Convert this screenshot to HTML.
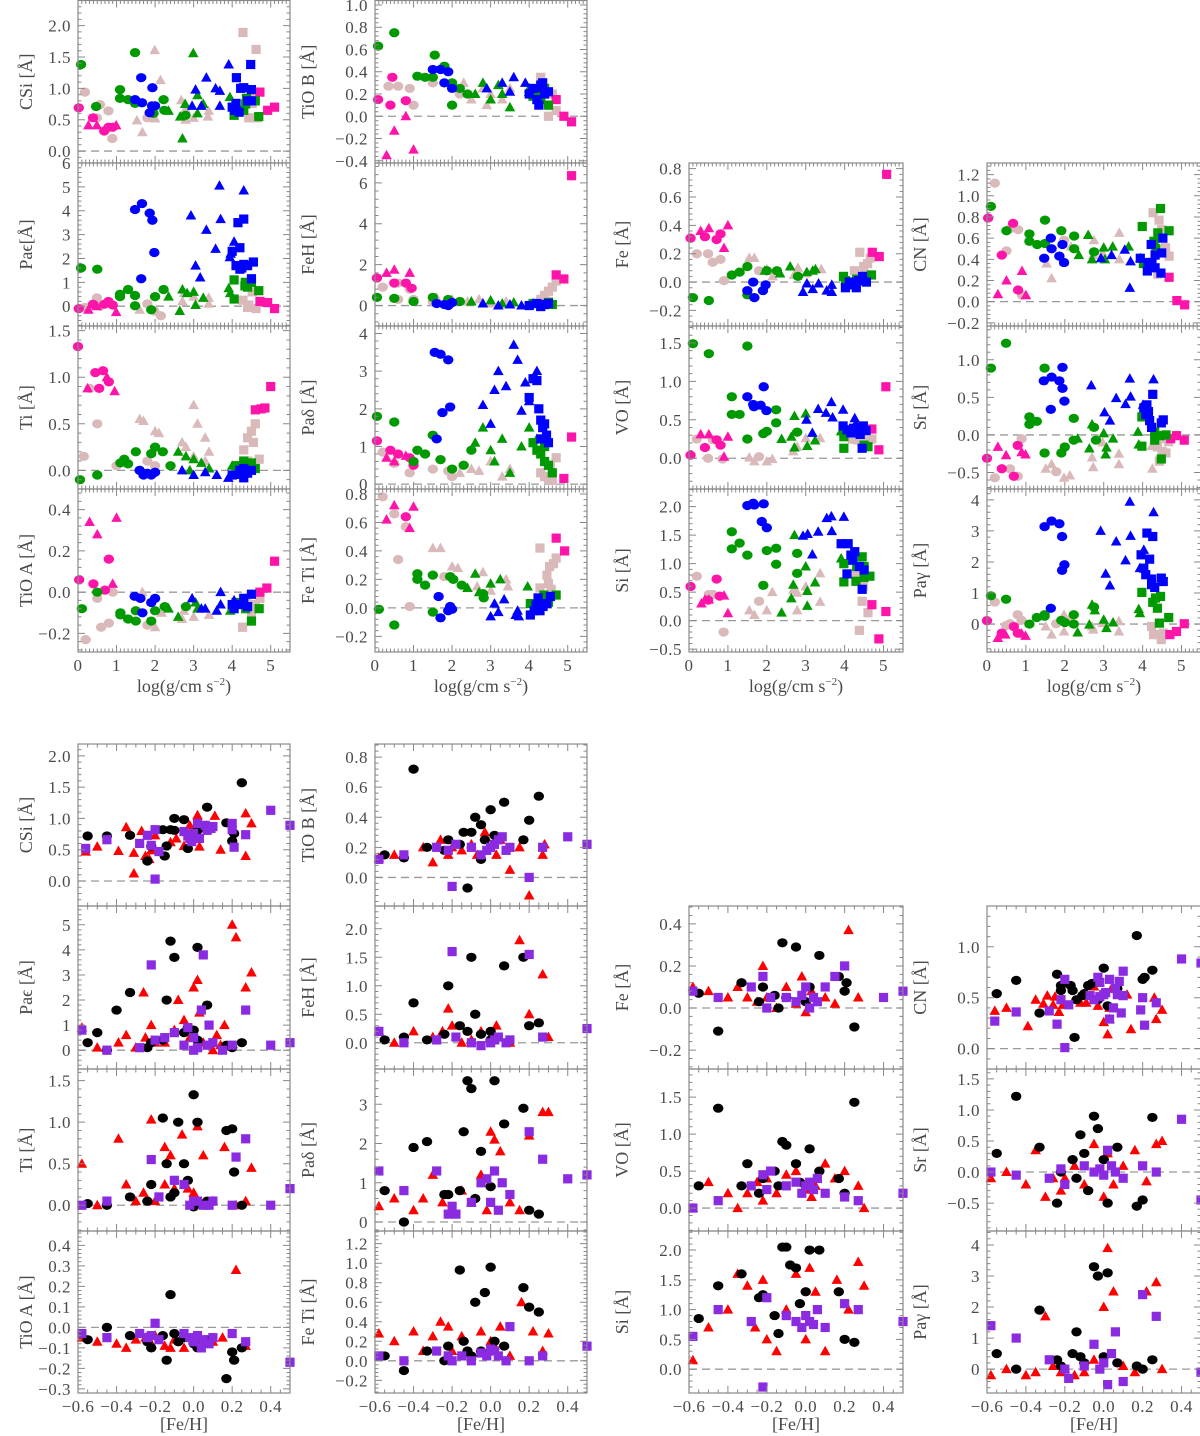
<!DOCTYPE html>
<html><head><meta charset="utf-8">
<style>
html,body{margin:0;padding:0;background:#fff;}
svg{display:block;}
text{font-family:"Liberation Serif",serif;fill:#4a4a4a;}
</style></head>
<body>
<svg id="fig" width="1200" height="1436" viewBox="0 0 1200 1436" xmlns="http://www.w3.org/2000/svg"></svg>
<script>
// ---------- data: top section (x = log g) ----------
const T_CSI={po:[0.18,0.94,0.49,0.53,0.57,0.74,0.79,0.64,0.89,0.2,1.8,0.53],
pt:[1.99,1.61,2.14,1.13,1.53,0.49,1.67,0.3,2.0,0.52,2.68,0.81,2.79,0.67,2.79,0.5,3.0,0.53,3.39,0.64,3.37,0.55],
ps:[4.28,1.89,4.62,1.62,4.48,0.85,4.43,0.53,4.65,0.53,4.52,0.76],
mo:[0.02,0.69,0.39,0.53,0.68,0.32,0.79,0.38,0.9,0.38],mt:[0.27,0.41,0.49,0.41,0.99,0.41],ms:[4.72,0.94,4.92,0.65,5.1,0.7],
go:[0.08,1.38,0.47,0.71,1.48,1.57,1.09,0.98,1.09,0.84,1.3,0.82,1.48,0.76,2.22,0.82,2.24,0.65,1.96,0.6,2.79,0.57],
gt:[2.71,0.2,2.99,1.56,2.65,0.55,3.1,0.89,3.1,0.6,3.25,0.75,2.78,0.75,3.94,0.86,2.35,0.64],
gs:[4.05,0.7,4.05,0.57,4.3,0.65,4.35,0.75,4.6,0.8,4.69,0.55,4.37,0.84],
bo:[1.64,1.17,1.48,0.82,1.66,0.77,1.93,1.01,1.92,0.72,2.0,0.72,1.86,0.61],
bt:[3.05,0.98,3.33,1.17,3.57,1.0,3.68,0.96,3.68,0.72,3.91,1.38,3.2,0.72,2.96,0.72],
bs:[4.11,1.17,4.48,1.38,4.22,1.0,4.3,1.01,4.5,0.98,4.0,0.7,4.1,0.76,4.18,0.62,4.4,0.8,4.5,0.8,4.06,0.65]};
const T_PAE={po:[0.49,0.35,0.18,-0.05,1.8,0.1,1.98,-0.2,2.15,-0.4,0.57,0.0],
pt:[2.71,0.2,2.75,0.55,3.0,0.4,3.39,0.35,3.39,0.1,1.6,-0.15],
ps:[4.28,0.25,4.43,0.05,4.52,0.6,4.62,-0.1,4.4,-0.05],
mo:[0.02,-0.1,0.39,0.08,0.68,0.08,0.79,0.2,0.9,0.05],mt:[0.27,-0.15,0.49,0.0,0.99,-0.25],ms:[4.72,0.2,4.92,0.15,5.1,-0.1],
go:[0.08,1.6,0.5,1.55,1.09,0.5,1.09,0.4,1.3,0.7,1.48,0.45,1.48,0.02,2.0,0.4,2.22,0.7,1.9,-0.15],
gt:[2.35,0.4,2.64,-0.2,2.71,0.7,2.83,0.55,3.0,0.6,3.05,0.05,3.25,0.35,3.91,0.75,3.95,0.55],
gs:[4.05,1.1,4.05,0.3,4.33,0.85,4.4,0.8,4.5,1.0,4.69,0.65,4.34,1.0],
bo:[1.48,4.05,1.66,4.3,1.86,3.9,1.93,3.6,1.98,2.25,1.64,1.15],
bt:[2.93,3.8,3.05,1.7,3.17,1.2,3.33,3.2,3.57,2.4,3.67,5.05,3.7,3.65,4.05,2.7,4.3,4.85,3.94,2.05,3.96,2.2],
bs:[4.0,2.3,4.15,3.5,4.3,3.65,4.2,2.45,4.1,1.7,4.2,1.55,4.4,1.7,4.55,1.85,4.3,1.75,4.5,1.15,4.25,1.6]};
const T_TI={po:[0.3,0.88,0.5,0.5,0.15,0.15,1.0,0.05,0.5,-0.05,1.8,0.1,2.0,0.05],
pt:[1.6,0.55,1.7,0.53,2.0,0.42,2.1,0.4,2.7,0.3,2.8,0.25,3.0,0.15,3.0,0.7,3.1,0.5,3.3,0.35,3.4,0.2,3.3,0.1],
ps:[4.3,0.22,4.4,0.35,4.5,0.42,4.55,0.3,4.6,0.5,4.7,0.12,4.4,0.1],
mo:[0.0,1.33,0.45,1.05,0.65,1.07,0.8,0.95,0.55,0.88],mt:[0.25,0.88,0.95,0.85,0.75,1.0],ms:[4.6,0.65,4.75,0.66,4.85,0.67,5.0,0.9],
go:[0.05,-0.1,0.5,-0.05,1.1,0.08,1.2,0.12,1.3,0.07,1.5,0.2,1.9,0.18,2.0,0.25,2.2,0.2,2.4,0.05,1.6,0.0],
gt:[2.6,0.2,2.8,0.15,3.0,0.12,3.2,0.08,3.4,0.02,4.0,0.05,2.9,0.0],
gs:[4.1,0.05,4.3,0.1,4.4,0.05,4.5,0.08,4.6,0.02,4.2,-0.02],
bo:[1.6,0.0,1.8,-0.03,1.9,-0.05,2.0,-0.02,1.7,-0.05],
bt:[2.7,0.0,3.0,-0.05,3.3,-0.02,3.6,-0.05,3.9,-0.08,4.1,-0.05],
bs:[4.0,-0.05,4.2,0.0,4.3,0.02,4.4,-0.03,4.5,0.0,4.3,-0.08]};
const T_TIOA={po:[0.2,-0.23,0.5,-0.03,0.6,-0.17,0.8,-0.15,0.9,0.0,1.8,-0.16],
pt:[1.67,0.0,2.0,-0.17,2.17,-0.1,2.7,-0.13,2.75,-0.09,3.0,-0.12,3.4,-0.11],
ps:[4.27,-0.17,4.38,-0.03,4.45,-0.08,4.5,-0.1,4.6,-0.06,4.72,-0.03],
mo:[0.03,0.06,0.4,0.04,0.7,0.01,0.8,0.16],mt:[0.3,0.34,0.5,0.28,1.0,0.36,0.9,0.04],ms:[4.72,0.0,4.9,0.02,5.1,0.15],
go:[0.1,-0.08,0.5,0.0,1.1,-0.1,1.1,-0.11,1.3,-0.13,1.5,-0.14,1.5,-0.09,1.9,-0.14,2.0,-0.09,2.25,-0.07,2.8,-0.07],
gt:[2.35,-0.08,2.6,-0.12,3.05,-0.05,3.1,-0.08,3.95,-0.09],
gs:[4.0,-0.07,4.1,-0.05,4.35,-0.08,4.5,-0.14,4.7,-0.08],
bo:[1.47,-0.02,1.67,-0.1,1.9,-0.05,2.0,-0.03,1.62,-0.03],
bt:[2.96,-0.03,3.2,-0.08,3.3,-0.08,3.6,-0.09,3.7,-0.06,3.7,0.0,4.05,-0.04],
bs:[4.0,-0.06,4.17,-0.06,4.3,-0.03,4.5,-0.01,4.4,-0.07,4.05,-0.08]};
const T_TIOB={po:[0.35,0.27,0.6,0.27,0.9,0.25,1.0,0.1,1.5,0.3,2.2,0.2],
pt:[2.3,0.3,2.5,0.15,2.8,0.25,2.9,0.1,3.0,0.2,3.3,0.15,3.5,0.25],
ps:[4.3,0.35,4.4,0.25,4.5,0.1,4.6,0.2,4.7,0.05,4.5,0.0],
mo:[0.08,0.15,0.4,0.1,0.8,0.14,0.45,0.35],mt:[0.3,-0.35,0.5,-0.13,0.8,0.0,1.0,-0.3],ms:[4.7,0.15,4.9,0.0,5.1,-0.05],
go:[0.08,0.63,0.5,0.75,1.1,0.36,1.3,0.35,1.5,0.35,1.55,0.55,1.8,0.45,2.0,0.3,2.2,0.25,2.4,0.2,2.0,0.1],
gt:[2.6,0.2,2.8,0.3,3.0,0.15,3.3,0.2,3.5,0.08,4.0,0.25,3.2,0.28],
gs:[4.1,0.18,4.2,0.22,4.3,0.15,4.4,0.25,4.5,0.1],
bo:[1.5,0.42,1.7,0.42,1.9,0.4,2.0,0.25,1.8,0.3],
bt:[2.9,0.25,3.3,0.3,3.5,0.22,3.6,0.35,3.9,0.3,4.0,0.22,4.2,0.25],
bs:[4.0,0.2,4.1,0.25,4.2,0.15,4.3,0.28,4.4,0.2,4.5,0.22,4.25,0.1,4.35,0.3]};
const T_FEH={po:[0.2,0.9,0.6,1.1,0.9,0.8,0.6,0.3,1.0,0.3,1.5,0.2],
pt:[1.6,0.4,2.0,0.3,2.4,0.2,2.7,0.3,3.0,0.1,3.4,0.2],
ps:[4.3,0.3,4.4,0.5,4.5,0.7,4.6,0.9,4.7,1.2,4.5,0.2],
mo:[0.05,1.35,0.5,1.1,0.8,1.1,0.95,0.85],mt:[0.3,1.6,0.5,1.75,0.9,1.6],ms:[5.1,6.35,4.9,1.3,4.7,1.5],
go:[0.05,0.4,0.5,0.35,1.0,0.2,1.5,0.4,1.9,0.3,2.2,0.2],
gt:[2.5,0.2,2.8,0.1,3.0,0.25,3.3,0.1,3.6,0.15,4.0,0.0],
gs:[4.1,0.1,4.3,0.0,4.5,0.15,4.6,0.05],
bo:[1.6,0.1,1.8,0.05,2.0,0.15,1.9,0.0],
bt:[2.8,0.1,3.2,0.0,3.5,0.05,3.8,0.0,4.1,0.1],
bs:[4.0,0.0,4.2,0.1,4.3,-0.05,4.4,0.05,4.5,0.1]};
const T_PAD={po:[0.2,0.85,0.5,0.55,0.9,0.3,1.5,0.4,1.9,0.35,2.0,0.2],
pt:[2.2,0.3,2.5,0.4,2.7,0.35,3.0,0.6,3.3,0.2,3.5,0.4],
ps:[4.3,0.3,4.4,0.2,4.5,0.15,4.6,0.1,4.55,0.5,4.7,0.7],
mo:[0.05,1.15,0.4,0.9,0.6,0.8,0.9,0.7,1.0,0.5],mt:[0.3,0.7,0.5,0.6,0.8,0.75],ms:[4.9,0.15,5.1,1.25],
go:[0.05,1.8,0.5,1.65,1.0,0.6,1.1,0.9,1.3,0.8,1.5,1.3,1.7,0.65,2.0,0.4,2.3,0.5,2.5,0.9],
gt:[2.6,1.1,2.8,1.5,3.0,0.9,3.1,0.6,3.3,1.2,3.5,0.3,3.8,1.0,4.0,1.5,4.2,1.2],
gs:[4.1,1.1,4.2,0.9,4.3,0.8,4.4,1.0,4.5,0.5,4.6,0.3,4.4,0.6],
bo:[1.55,3.5,1.7,3.45,1.9,3.3,1.95,2.05,1.75,1.9,1.6,1.2],
bt:[2.8,2.1,3.0,1.6,3.1,2.5,3.2,3.0,3.4,2.6,3.6,3.7,3.7,3.3,3.9,2.7,4.0,2.2,4.2,3.0,3.8,1.95],
bs:[4.0,2.3,4.1,2.8,4.2,2.75,4.25,2.0,4.3,1.7,4.35,1.5,4.4,1.6,4.45,1.3,4.3,1.2,4.5,1.1]};
const T_FETI={po:[0.2,0.78,0.5,0.66,0.6,0.34,0.8,0.57,0.9,0.01,1.8,0.22],
pt:[1.5,0.42,1.7,0.42,2.0,0.29,2.15,0.28,2.65,0.15,2.8,0.25,3.0,0.12,3.4,0.2,3.45,0.15],
ps:[4.28,0.42,4.28,0.14,4.46,0.23,4.53,0.29,4.63,0.31,4.7,0.35,4.5,0.17,4.57,0.13],
mo:[0.8,0.64],mt:[0.3,0.62,0.5,0.72,1.0,0.71,0.9,0.56],ms:[4.7,0.49,4.92,0.4],
go:[0.1,-0.01,0.5,-0.12,1.1,0.24,1.1,0.2,1.3,0.16,1.5,0.23,1.5,-0.03,1.95,0.22,2.03,0.2,2.25,0.16,2.8,0.1,2.82,0.07],
gt:[2.4,0.14,2.6,0.24,2.7,0.11,3.0,0.17,3.25,0.2,3.96,0.15],
gs:[4.03,0.03,4.28,0.05,4.38,0.09,4.5,0.04,4.7,0.09],
bo:[1.65,0.08,1.7,-0.07,1.9,-0.02,1.95,0.01,2.0,-0.01],
bt:[3.0,-0.06,3.1,0.03,3.2,-0.03,3.35,0.06,3.65,-0.05,3.7,-0.02,3.73,-0.06],
bs:[4.03,-0.05,4.13,-0.02,4.23,0.07,4.28,-0.02,4.36,0.01,4.46,0.03,4.55,0.08,4.18,0.02]};
const T_FE={po:[0.2,0.2,0.49,0.2,0.61,0.14,0.81,0.16,0.9,0.01,1.8,0.08],
pt:[1.55,0.17,1.68,0.17,2.0,0.09,2.15,0.04,2.7,0.05,2.8,0.1,3.0,0.06,3.4,0.09],
ps:[4.39,0.21,4.25,0.08,4.49,0.11,4.59,0.13,4.66,0.17,4.51,0.05],
mo:[0.04,0.31,0.41,0.32,0.71,0.3,0.81,0.34],mt:[0.3,0.36,0.51,0.38,1.0,0.4,0.9,0.24],ms:[4.71,0.21,4.89,0.18,5.08,0.76],
go:[0.1,-0.11,0.51,-0.13,1.1,0.05,1.3,0.07,1.5,0.11,1.5,-0.09,2.0,0.08,2.26,0.08,2.8,0.04],
gt:[1.95,0.08,2.34,0.06,2.6,0.11,3.03,0.07,3.18,0.08,3.25,0.09],
gs:[3.97,0.04,4.02,0.01,4.31,0.02,4.51,0.01,4.69,0.05],
bo:[1.5,-0.06,1.65,0.0,1.68,-0.11,1.9,-0.06,1.97,-0.02],
bt:[2.93,-0.07,3.03,-0.01,3.18,-0.05,3.33,-0.01,3.54,-0.06,3.67,-0.02,3.67,-0.07],
bs:[4.02,-0.04,4.12,0.0,4.22,-0.02,4.3,-0.04,4.36,0.01,4.46,0.04,4.56,0.0]};
const T_CN={po:[0.2,1.12,0.5,0.48,0.6,0.69,0.8,0.68,0.9,0.06,1.98,0.58],
pt:[1.53,0.36,1.66,0.22,1.98,0.37,2.16,0.52,2.73,0.44,2.75,0.58,2.97,0.46,3.4,0.65,3.4,0.4],
ps:[4.27,0.84,4.42,0.77,4.49,0.68,4.39,0.26,4.59,0.51,4.68,0.43],
mo:[0.03,0.79,0.38,0.44,0.67,0.74,0.8,0.11],mt:[0.28,0.07,0.5,0.2,0.9,0.29,1.0,0.06],ms:[4.68,0.23,4.88,0.01,5.08,-0.03],
go:[0.1,0.9,0.5,0.67,1.09,0.64,1.09,0.57,1.29,0.54,1.49,0.77,1.49,0.55,1.91,0.67,2.24,0.62,2.24,0.5,2.75,0.47],
gt:[2.36,0.44,2.6,0.63,2.7,0.4,3.0,0.51,3.03,0.4,3.23,0.52,3.64,0.52],
gs:[3.99,0.71,4.02,0.36,4.29,0.57,4.39,0.65,4.46,0.88,4.68,0.67,4.34,0.5],
bo:[1.47,0.41,1.64,0.6,1.66,0.5,1.86,0.43,1.94,0.54,1.98,0.37],
bt:[2.93,0.41,3.2,0.44,3.54,0.49,3.69,0.38,3.67,0.13,3.94,0.41],
bs:[3.94,0.41,4.14,0.37,4.12,0.29,4.24,0.37,4.32,0.32,4.22,0.54,4.32,0.44,4.49,0.46,4.52,0.6,4.47,0.27]};
const T_VO={po:[0.2,0.25,0.49,0.0,0.61,0.24,0.86,-0.01,1.8,0.02],
pt:[1.55,0.01,1.68,-0.04,2.0,-0.04,2.14,-0.01,2.68,0.09,2.78,0.15,3.0,0.26,3.37,0.26,4.26,0.24],
ps:[4.2,0.25,4.33,0.24,4.45,0.25,4.6,0.22,4.7,0.25],
mo:[0.04,0.04,0.41,0.14,0.71,0.24,0.81,0.17],mt:[0.3,0.31,0.51,0.31,1.0,0.28,0.9,0.02],ms:[4.7,0.38,4.88,0.11,5.06,0.93],
go:[0.1,1.49,0.51,1.36,1.5,1.46,1.1,0.8,1.1,0.57,1.3,0.57,1.5,0.25,1.91,0.32,2.0,0.35,2.24,0.63,2.24,0.46,2.78,0.34],
gt:[2.38,0.25,2.63,0.28,2.71,0.55,3.0,0.58,3.04,0.16,3.24,0.23,3.91,0.35,2.71,0.14],
gs:[3.98,0.13,3.98,0.28,4.33,0.33,4.4,0.35,4.5,0.17,4.6,0.15],
bo:[1.5,0.8,1.65,0.7,1.67,0.67,1.84,0.69,1.92,0.93,1.99,0.62],
bt:[3.02,0.5,3.17,0.33,3.32,0.64,3.52,0.59,3.66,0.73,3.69,0.53,3.96,0.63,4.26,0.52,4.29,0.45],
bs:[3.96,0.42,4.06,0.37,4.16,0.33,4.23,0.39,4.33,0.37,4.4,0.31,4.48,0.42,4.45,0.13,4.55,0.36]};
const T_SR={po:[0.2,-0.57,0.59,-0.45,0.89,-0.05,0.79,-0.55,1.78,-0.49],
pt:[1.51,-0.45,1.66,-0.39,1.98,-0.57,2.13,-0.54,2.7,-0.3,2.73,-0.43,2.97,-0.1,3.39,-0.25,3.39,-0.39,4.23,-0.15,4.25,-0.45],
ps:[4.38,-0.16,4.43,-0.35,4.5,-0.22,4.6,-0.24,4.67,-0.09,4.48,-0.05],
mo:[0.0,-0.31,0.38,-0.45,0.69,-0.55,0.79,-0.14],mt:[0.28,-0.16,0.49,-0.27,0.89,-0.23,0.99,-0.26],ms:[4.72,-0.05,4.87,-0.01,5.07,-0.07],
go:[0.1,0.89,0.49,1.22,1.09,0.14,1.09,0.24,1.28,0.18,1.48,0.89,1.48,-0.24,1.91,-0.24,2.0,-0.16,2.23,0.22,2.23,-0.07,2.8,-0.07,2.75,0.1],
gt:[2.33,-0.05,2.63,-0.18,2.7,0.14,3.0,0.02,3.07,-0.17,3.05,-0.26,3.24,-0.05,3.88,0.04,3.9,-0.13],
gs:[3.98,0.24,3.98,-0.15,4.31,0.04,4.31,-0.07,4.46,-0.01,4.6,0.0,4.48,-0.32],
bo:[1.46,0.72,1.66,0.77,1.64,0.34,1.86,0.72,1.94,0.9,1.94,0.62,1.99,0.45],
bt:[2.68,0.66,3.02,0.3,3.16,0.19,3.32,0.49,3.56,0.41,3.67,0.75,3.69,0.51,4.01,0.4,4.28,0.74],
bs:[4.03,0.36,4.11,0.4,4.08,0.27,4.18,0.19,4.26,0.54,4.23,0.1,4.48,0.16,4.53,0.2,4.15,0.31]};
const T_SI={po:[0.2,0.78,0.51,0.46,0.61,0.46,0.89,-0.2,1.8,0.34],
pt:[1.55,0.18,1.68,0.1,2.0,0.18,2.14,0.5,2.68,0.54,2.78,0.49,3.0,0.6,3.37,0.83,3.37,0.33,2.78,0.18],
ps:[4.26,0.83,4.45,0.34,4.48,0.6,4.38,-0.17,4.6,0.14],
mo:[0.04,0.6,0.71,0.73,0.79,0.43,0.49,0.36],mt:[0.32,0.3,0.41,0.37,0.51,0.37,0.9,0.44,1.0,0.13],ms:[4.7,0.28,4.88,-0.32,5.06,0.16],
go:[1.1,1.26,1.1,1.56,1.3,1.36,1.5,1.15,1.91,0.62,2.0,1.23,2.24,1.27,2.24,0.99,2.78,1.18,2.78,0.83],
gt:[2.38,0.14,2.68,0.63,2.63,0.39,2.71,1.5,3.0,0.95,3.04,0.52,3.04,0.26,3.24,0.67,3.91,1.09],
gs:[3.98,0.68,3.98,1.0,4.29,0.69,4.31,0.95,4.45,1.12,4.5,0.76,4.65,0.78,4.5,0.95],
bo:[1.5,2.02,1.65,2.06,1.68,2.03,1.92,2.05,1.87,1.74,2.0,1.63],
bt:[2.93,1.49,3.05,1.52,3.17,1.16,3.32,1.56,3.54,1.8,3.66,1.83,3.67,1.57,3.98,1.82],
bs:[3.91,1.35,4.09,1.35,4.16,1.15,4.21,1.06,4.26,1.21,4.38,0.95,4.5,0.89,4.06,0.82,4.45,0.55]};
const T_PAG={po:[0.2,0.71,0.49,-0.05,0.59,0.01,0.79,0.3,0.89,0.12,1.78,0.01],
pt:[1.51,-0.08,1.66,-0.34,1.98,0.3,1.98,-0.24,2.13,0.19,2.7,-0.08,2.73,-0.18,2.97,0.03,3.39,-0.24,3.39,0.09],
ps:[4.23,-0.08,4.38,-0.34,4.48,-0.5,4.53,-0.29,4.28,-0.34],
mo:[0.0,0.11,0.38,-0.29,0.69,-0.08,0.79,-0.29],mt:[0.28,-0.45,0.47,-0.34,0.89,-0.31,0.99,-0.38],ms:[4.7,-0.34,4.87,-0.24,5.07,0.01],
go:[0.1,0.91,0.49,0.8,1.09,0.0,1.28,0.21,1.48,0.3,1.48,0.25,1.91,0.12,2.0,0.05,2.23,0.3,2.23,0.0,2.75,0.55],
gt:[2.33,-0.27,2.63,-0.02,2.7,0.62,2.77,0.44,3.0,0.14,3.07,-0.13,3.24,0.05,3.9,0.48,3.93,0.35],
gs:[3.98,1.02,4.26,0.7,4.38,0.51,4.33,0.84,4.46,0.89,4.67,0.21,4.43,0.03],
bo:[1.48,3.14,1.66,3.32,1.86,3.23,1.93,2.82,1.99,1.91,1.93,1.73,1.64,0.51],
bt:[2.92,3.0,3.05,1.62,3.16,1.24,3.32,2.66,3.56,2.05,3.69,2.84,3.67,3.94,3.93,1.8,4.03,2.39,4.28,3.6],
bs:[3.96,2.23,4.03,1.8,4.11,2.93,4.26,2.82,4.18,2.09,4.08,1.59,4.23,1.45,4.23,1.27,4.48,1.48,4.53,1.37,4.31,1.18]};

// ---------- data: bottom section (x = [Fe/H]) ----------
const B_CSI={ko:[-0.55,0.72,-0.45,0.72,-0.33,0.73,-0.24,0.32,-0.22,0.56,-0.16,0.82,-0.14,0.56,-0.15,0.4,-0.12,0.82,-0.1,1.0,-0.1,0.81,-0.05,0.98,-0.03,0.52,0.07,1.18,0.17,0.93,0.2,0.64,0.21,0.76,0.25,1.57,0.02,0.81],
rt:[-0.56,0.47,-0.5,0.55,-0.39,0.48,-0.35,0.86,-0.31,0.12,-0.31,0.45,-0.27,0.8,-0.25,0.4,-0.23,0.35,-0.22,0.49,-0.2,0.73,-0.12,0.62,-0.09,0.68,-0.05,0.56,-0.02,0.89,0.02,1.05,0.03,0.55,0.11,1.04,0.14,0.5,0.27,1.08,0.27,0.4,0.3,0.92,-0.01,0.81],
vs:[-0.56,0.52,-0.45,0.66,-0.28,0.6,-0.24,0.73,-0.22,0.57,-0.2,0.82,-0.2,0.03,-0.18,0.47,-0.05,0.79,-0.03,0.72,-0.02,0.68,0.0,0.76,0.02,0.92,0.03,0.68,0.06,0.89,0.07,0.81,0.09,0.84,0.1,0.87,0.2,0.82,0.2,0.92,0.21,0.54,0.27,0.74,0.4,1.13,0.5,0.89,-0.01,0.63]};
const B_PAE={ko:[-0.55,0.3,-0.5,0.7,-0.45,0.0,-0.4,1.6,-0.33,2.3,-0.24,0.1,-0.22,0.3,-0.16,0.4,-0.12,4.35,-0.1,3.7,-0.05,0.7,-0.03,0.9,0.0,0.8,0.02,4.1,0.07,1.8,0.17,0.2,0.2,0.1,0.25,0.3,0.02,0.4,-0.14,2.0],
rt:[-0.58,0.9,-0.5,0.1,-0.39,0.3,-0.35,0.6,-0.3,0.1,-0.26,2.3,-0.25,0.5,-0.22,1.0,-0.2,0.3,-0.15,0.3,-0.1,0.8,-0.08,2.0,-0.05,1.2,-0.02,0.5,0.0,2.5,0.02,2.8,0.03,1.5,0.05,0.3,0.1,0.0,0.14,0.2,0.16,1.0,0.2,5.0,0.22,4.5,0.27,2.5,0.3,3.1,0.12,0.6],
vs:[-0.58,0.8,-0.45,0.0,-0.28,0.1,-0.22,3.4,-0.2,0.4,-0.15,0.5,-0.1,0.7,-0.05,0.2,-0.03,0.9,0.0,0.5,0.0,0.0,0.02,0.1,0.04,1.6,0.05,3.8,0.07,0.2,0.08,1.0,0.1,0.3,0.15,0.0,0.2,0.2,0.27,1.6,0.4,0.2,0.5,0.3]};
const B_TI={ko:[-0.55,0.02,-0.45,0.0,-0.33,0.1,-0.24,0.05,-0.22,0.25,-0.16,1.05,-0.14,0.5,-0.12,0.1,-0.1,0.15,-0.08,1.0,-0.05,0.5,-0.03,0.3,0.0,1.33,0.02,1.0,0.07,0.05,0.17,0.9,0.2,0.92,0.21,0.4,0.25,0.0,0.0,-0.02],
rt:[-0.58,0.5,-0.5,0.0,-0.39,0.8,-0.35,0.25,-0.3,0.05,-0.26,0.15,-0.22,1.03,-0.2,0.05,-0.15,0.7,-0.12,0.6,-0.1,0.2,-0.06,0.85,-0.03,0.2,0.0,0.15,0.02,0.95,0.05,0.6,0.1,0.05,0.16,0.7,0.22,0.0,0.27,0.05,0.3,0.45,-0.15,0.25],
vs:[-0.58,0.0,-0.45,0.05,-0.22,0.55,-0.18,0.1,-0.1,0.3,-0.05,0.25,-0.02,0.0,0.0,0.05,0.02,0.05,0.05,0.0,0.08,0.0,0.1,0.05,0.2,0.0,0.22,0.58,0.27,0.8,0.4,0.0,0.5,0.2]};
const B_TIOA={ko:[-0.55,-0.06,-0.45,0.0,-0.33,-0.04,-0.24,-0.07,-0.22,-0.1,-0.16,-0.04,-0.14,-0.16,-0.12,0.16,-0.1,-0.03,-0.08,-0.07,-0.05,-0.05,0.0,-0.08,0.02,-0.1,0.07,-0.06,0.17,-0.25,0.2,-0.12,0.21,-0.16,0.25,-0.1],
rt:[-0.58,-0.05,-0.5,-0.07,-0.4,-0.08,-0.35,-0.1,-0.3,-0.06,-0.25,-0.05,-0.22,-0.08,-0.2,-0.04,-0.15,-0.09,-0.1,-0.06,-0.05,-0.1,0.0,-0.05,0.03,-0.08,0.1,-0.07,0.15,-0.05,0.22,0.28,0.27,-0.09,-0.12,-0.1],
vs:[-0.58,-0.03,-0.45,-0.05,-0.28,-0.03,-0.24,-0.05,-0.22,-0.04,-0.2,0.02,-0.18,-0.06,-0.05,-0.03,-0.02,-0.05,0.0,-0.07,0.02,-0.04,0.04,-0.1,0.05,-0.06,0.08,-0.08,0.1,-0.05,0.2,-0.03,0.27,-0.07,0.5,-0.17]};
const B_TIOB={ko:[-0.55,0.15,-0.45,0.13,-0.4,0.72,-0.33,0.2,-0.24,0.18,-0.22,0.25,-0.16,0.22,-0.14,0.3,-0.12,-0.07,-0.1,0.3,-0.08,0.4,-0.05,0.35,-0.03,0.25,0.0,0.45,0.02,0.28,0.07,0.5,0.17,0.25,0.2,0.38,0.25,0.54,-0.05,0.12],
rt:[-0.58,0.13,-0.5,0.15,-0.35,0.2,-0.3,0.1,-0.26,0.25,-0.22,0.15,-0.2,0.2,-0.15,0.18,-0.1,0.22,-0.07,0.15,-0.03,0.3,0.0,0.2,0.03,0.15,0.05,0.25,0.1,0.05,0.15,0.2,0.2,-0.12,0.27,0.15,0.28,0.22],
vs:[-0.58,0.12,-0.45,0.15,-0.28,0.2,-0.22,0.18,-0.2,-0.06,-0.18,0.22,-0.1,0.2,-0.05,0.15,-0.02,0.18,0.0,0.2,0.02,0.22,0.04,0.25,0.06,0.27,0.08,0.18,0.1,0.2,0.2,0.0,0.27,0.2,0.4,0.27,0.5,0.22]};
const B_FEH={ko:[-0.55,0.05,-0.45,0.1,-0.4,0.7,-0.33,0.05,-0.24,0.15,-0.22,1.0,-0.16,0.3,-0.12,0.2,-0.1,1.5,-0.08,0.5,-0.05,0.15,0.0,0.2,0.02,0.1,0.07,1.35,0.17,1.5,0.2,0.3,0.25,0.35,0.0,0.05],
rt:[-0.58,0.2,-0.5,0.0,-0.4,0.2,-0.3,0.1,-0.25,0.2,-0.22,0.6,-0.2,0.3,-0.15,0.0,-0.1,0.05,-0.05,0.2,0.0,0.1,0.03,0.3,0.1,0.0,0.15,1.8,0.2,0.5,0.27,1.2,0.3,0.1],
vs:[-0.58,0.2,-0.45,0.0,-0.28,0.05,-0.2,1.6,-0.18,0.1,-0.1,0.0,-0.05,-0.05,0.0,0.0,0.02,0.05,0.04,0.1,0.08,0.0,0.1,0.05,0.2,1.55,0.27,0.1,0.5,0.25]};
const B_PAD={ko:[-0.55,0.8,-0.45,0.0,-0.4,1.9,-0.33,2.05,-0.24,0.7,-0.22,0.7,-0.16,0.8,-0.12,3.6,-0.1,3.4,-0.08,0.6,-0.05,1.8,0.0,0.9,0.02,3.6,0.07,2.5,0.17,2.9,0.2,0.3,0.25,0.2,-0.14,2.3],
rt:[-0.58,0.4,-0.5,0.6,-0.4,0.3,-0.35,0.6,-0.3,1.2,-0.25,0.5,-0.2,0.3,-0.15,0.8,-0.1,0.5,-0.05,1.2,0.0,2.3,0.02,2.1,0.05,1.8,0.1,0.5,0.15,0.3,0.2,2.2,0.27,2.8,0.3,2.8,-0.02,0.3],
vs:[-0.58,1.3,-0.45,0.8,-0.28,1.3,-0.22,0.2,-0.2,0.4,-0.18,0.2,-0.1,0.5,-0.05,1.0,-0.02,1.1,0.0,0.5,0.02,1.3,0.04,0.3,0.06,1.0,0.1,0.7,0.2,2.3,0.27,1.6,0.4,1.1,0.5,1.2]};
const B_FETI={ko:[-0.55,0.05,-0.45,-0.1,-0.33,0.1,-0.24,0.0,-0.22,0.15,-0.16,0.93,-0.14,0.2,-0.12,0.1,-0.1,0.05,-0.08,0.6,-0.05,0.1,0.0,0.96,0.02,0.2,0.07,0.15,0.17,0.75,0.2,0.55,0.25,0.5,-0.03,0.7],
rt:[-0.58,0.28,-0.5,0.2,-0.4,0.3,-0.35,0.1,-0.3,0.25,-0.26,0.4,-0.22,0.35,-0.2,0.1,-0.15,0.25,-0.1,0.05,-0.05,0.3,0.0,0.2,0.02,0.15,0.05,0.35,0.1,0.05,0.16,0.6,0.22,0.3,0.27,0.1,0.3,0.28],
vs:[-0.58,0.05,-0.45,0.0,-0.28,0.1,-0.22,0.05,-0.2,0.0,-0.15,0.05,-0.1,0.0,-0.05,0.08,-0.02,0.05,0.0,0.12,0.02,0.1,0.04,0.05,0.08,0.0,0.1,0.35,0.2,0.0,0.27,0.05,0.5,0.15]};
const B_FE={ko:[-0.55,0.07,-0.45,-0.11,-0.33,0.12,-0.24,0.03,-0.22,0.1,-0.16,0.06,-0.12,0.31,-0.1,0.05,-0.05,0.29,0.0,0.03,0.02,0.1,0.07,0.25,0.17,0.15,0.2,0.08,0.21,0.12,0.25,-0.09,-0.14,0.0],
rt:[-0.58,0.1,-0.5,0.08,-0.4,0.05,-0.35,0.1,-0.3,0.05,-0.25,0.03,-0.22,0.2,-0.2,0.05,-0.15,0.0,-0.1,0.1,-0.05,0.02,0.0,-0.02,0.03,0.08,0.1,0.05,0.15,0.02,0.22,0.37,0.27,0.05,-0.02,0.15],
vs:[-0.58,0.08,-0.45,0.05,-0.28,0.1,-0.22,0.15,-0.2,0.0,-0.18,0.05,-0.1,0.05,-0.05,0.03,-0.02,0.06,0.0,0.1,0.02,0.0,0.04,0.05,0.06,0.03,0.1,0.1,0.15,0.15,0.2,0.2,0.4,0.05,0.5,0.08]};
const B_CN={ko:[-0.55,0.54,-0.45,0.67,-0.33,0.35,-0.24,0.73,-0.22,0.57,-0.22,0.62,-0.16,0.57,-0.17,0.62,-0.15,0.11,-0.14,0.48,-0.11,0.52,-0.1,0.54,-0.08,0.62,-0.06,0.64,0.0,0.79,0.02,0.42,0.07,0.59,0.17,1.11,0.2,0.68,0.21,0.7,0.25,0.77,-0.03,0.48],
rt:[-0.56,0.37,-0.5,0.4,-0.39,0.22,-0.35,0.48,-0.31,0.44,-0.29,0.52,-0.25,0.51,-0.26,0.43,-0.23,0.36,-0.21,0.43,-0.2,0.65,-0.12,0.45,-0.09,0.45,-0.05,0.61,-0.03,0.42,0.0,0.26,0.02,0.14,0.03,0.4,0.04,0.59,0.12,0.53,0.14,0.19,0.26,0.5,0.27,0.29,0.3,0.38,0.03,0.29],
vs:[-0.56,0.27,-0.45,0.36,-0.28,0.37,-0.24,0.24,-0.22,0.48,-0.2,0.68,-0.2,0.01,-0.18,0.43,-0.07,0.52,-0.05,0.48,-0.03,0.7,-0.02,0.65,-0.02,0.51,0.0,0.53,0.01,0.55,0.03,0.68,0.03,0.29,0.05,0.4,0.06,0.59,0.07,0.53,0.08,0.66,0.09,0.35,0.1,0.76,0.1,0.52,0.19,0.38,0.2,0.5,0.21,0.23,0.27,0.45,0.4,0.88,0.5,0.84]};
const B_VO={ko:[-0.55,0.3,-0.45,1.35,-0.33,0.3,-0.3,0.6,-0.24,0.2,-0.22,0.4,-0.16,0.5,-0.14,0.3,-0.12,0.9,-0.1,0.85,-0.05,0.6,-0.03,0.35,0.0,0.3,0.02,0.8,0.07,0.5,0.17,0.4,0.2,0.2,0.25,1.43],
rt:[-0.58,0.0,-0.5,0.35,-0.4,0.2,-0.35,0.0,-0.3,0.2,-0.25,0.35,-0.22,0.1,-0.2,0.4,-0.15,0.2,-0.1,0.45,-0.05,0.5,0.0,0.25,0.03,0.15,0.05,0.3,0.1,0.6,0.15,0.4,0.2,0.5,0.27,0.3,0.3,0.0],
vs:[-0.58,0.0,-0.45,0.1,-0.28,0.3,-0.22,0.45,-0.2,0.25,-0.18,0.5,-0.1,0.3,-0.05,0.35,-0.02,0.2,0.0,0.3,0.02,0.35,0.04,0.25,0.06,0.4,0.1,0.2,0.2,0.15,0.27,0.1,0.5,0.2]};
const B_SI={ko:[-0.55,0.85,-0.45,1.4,-0.33,1.6,-0.24,1.2,-0.22,1.25,-0.16,0.9,-0.14,0.6,-0.12,2.05,-0.1,2.05,-0.08,1.75,-0.05,1.7,0.0,1.3,0.02,2.0,0.07,2.0,0.17,1.3,0.2,0.5,0.25,0.45,-0.03,1.1],
rt:[-0.58,0.15,-0.5,0.7,-0.4,1.0,-0.35,1.6,-0.3,1.4,-0.26,0.7,-0.22,1.5,-0.2,0.5,-0.15,0.3,-0.1,1.0,-0.05,1.6,0.0,0.5,0.02,1.7,0.05,1.3,0.1,0.3,0.16,1.5,0.22,1.0,0.27,1.8,0.3,1.4],
vs:[-0.58,0.55,-0.45,1.0,-0.28,0.8,-0.22,-0.3,-0.2,1.2,-0.1,0.9,-0.05,0.8,-0.02,0.7,0.0,0.9,0.02,0.8,0.04,0.75,0.06,1.0,0.1,0.7,0.2,1.1,0.27,1.0,0.5,0.8]};
const B_SR={ko:[-0.55,0.3,-0.45,1.22,-0.33,0.4,-0.24,-0.5,-0.22,0.0,-0.16,0.2,-0.14,-0.1,-0.12,0.6,-0.1,0.3,-0.05,0.9,-0.03,0.7,0.0,0.2,0.02,-0.5,0.07,0.4,0.17,-0.55,0.2,-0.45,0.25,0.88,-0.08,-0.3],
rt:[-0.58,-0.1,-0.5,0.0,-0.4,-0.2,-0.35,0.35,-0.3,-0.4,-0.26,-0.1,-0.22,-0.3,-0.2,-0.1,-0.15,0.1,-0.1,-0.2,-0.05,0.45,0.0,-0.4,0.02,0.3,0.05,-0.2,0.1,0.1,0.16,0.35,0.22,-0.15,0.27,0.45,0.3,0.5],
vs:[-0.58,0.0,-0.45,-0.05,-0.28,-0.1,-0.22,0.05,-0.2,-0.2,-0.1,0.1,-0.05,0.0,-0.02,0.05,0.0,-0.05,0.02,0.35,0.04,0.1,0.06,0.0,0.1,-0.1,0.2,0.1,0.27,0.0,0.4,0.85,0.5,-0.45]};
const B_PAG={ko:[-0.55,0.5,-0.45,0.0,-0.33,1.9,-0.24,0.3,-0.22,0.1,-0.16,0.5,-0.12,0.4,-0.1,0.2,-0.05,3.3,-0.03,3.0,0.0,0.4,0.02,3.1,0.07,0.2,0.17,0.1,0.2,0.0,0.25,0.3,-0.14,1.2],
rt:[-0.58,-0.2,-0.5,0.0,-0.4,-0.2,-0.35,-0.1,-0.3,1.7,-0.26,0.1,-0.22,-0.1,-0.2,0.0,-0.15,-0.2,-0.1,-0.1,-0.05,0.3,0.0,2.0,0.02,3.9,0.05,2.5,0.1,0.1,0.16,-0.1,0.22,2.5,0.27,2.8,0.3,0.0],
vs:[-0.58,1.4,-0.45,1.0,-0.28,0.3,-0.2,0.0,-0.18,-0.3,-0.1,0.1,-0.05,0.8,-0.02,0.0,0.0,0.2,0.02,-0.5,0.04,0.5,0.06,1.2,0.1,-0.4,0.2,2.4,0.27,1.7,0.5,-0.1]};

// ---------- layout ----------
const COLX=[[78,290],[375,587],[689,903],[987,1201]];
const TOPY=[[0.5,163],[163,326],[326,489],[489,652]];
const BOTY=[[744,906],[906,1069],[1069,1231],[1231,1393]];
const XLIM_TOP=[0,5.5], XLIM_BOT=[-0.6,0.5];
const COLORS={m:'#ff14aa',p:'#d9b9b9',g:'#009a00',b:'#0000ff',k:'#000000',r:'#ff0000',v:'#8a2be2'};
const ORDER=['po','pt','ps','mo','mt','ms','go','gt','gs','bo','bt','bs','rt','ko','vs'];

const panels=[
 {n:'csi-vs-logg',s:'t',c:0,r:0,y:[-0.19,2.4],st:0.5,d:1,lab:'CSi [Å]',data:T_CSI},
 {n:'pa-epsilon-vs-logg',s:'t',c:0,r:1,y:[-0.83,6.0],st:1,d:0,lab:'Paϵ[Å]',data:T_PAE},
 {n:'ti-vs-logg',s:'t',c:0,r:2,y:[-0.2,1.55],st:0.5,d:1,lab:'Ti  [Å]',data:T_TI},
 {n:'tio-a-vs-logg',s:'t',c:0,r:3,y:[-0.29,0.5],st:0.2,d:1,lab:'TiO A [Å]',data:T_TIOA},
 {n:'tio-b-vs-logg',s:'t',c:1,r:0,y:[-0.42,1.04],st:0.2,d:1,lab:'TiO B [Å]',data:T_TIOB},
 {n:'feh-vs-logg',s:'t',c:1,r:1,y:[-1.0,6.97],st:2,d:0,lab:'FeH [Å]',data:T_FEH},
 {n:'pa-delta-vs-logg',s:'t',c:1,r:2,y:[-0.13,4.2],st:1,d:0,lab:'Paδ [Å]',data:T_PAD},
 {n:'feti-vs-logg',s:'t',c:1,r:3,y:[-0.31,0.835],st:0.2,d:1,lab:'Fe Ti  [Å]',data:T_FETI},
 {n:'fe-vs-logg',s:'t',c:2,r:1,y:[-0.31,0.84],st:0.2,d:1,lab:'Fe  [Å]',data:T_FE},
 {n:'vo-vs-logg',s:'t',c:2,r:2,y:[-0.4,1.72],st:0.5,d:1,lab:'VO [Å]',data:T_VO},
 {n:'si-vs-logg',s:'t',c:2,r:3,y:[-0.55,2.31],st:0.5,d:1,lab:'Si  [Å]',data:T_SI},
 {n:'cn-vs-logg',s:'t',c:3,r:1,y:[-0.23,1.31],st:0.2,d:1,lab:'CN  [Å]',data:T_CN},
 {n:'sr-vs-logg',s:'t',c:3,r:2,y:[-0.72,1.45],st:0.5,d:1,lab:'Sr  [Å]',data:T_SR},
 {n:'pa-gamma-vs-logg',s:'t',c:3,r:3,y:[-0.9,4.35],st:1,d:0,lab:'Paγ [Å]',data:T_PAG},
 {n:'csi-vs-feh',s:'b',c:0,r:0,y:[-0.4,2.19],st:0.5,d:1,lab:'CSi [Å]',data:B_CSI},
 {n:'pa-epsilon-vs-feh',s:'b',c:0,r:1,y:[-0.75,5.75],st:1,d:0,lab:'Paϵ  [Å]',data:B_PAE},
 {n:'ti-vs-feh',s:'b',c:0,r:2,y:[-0.31,1.64],st:0.5,d:1,lab:'Ti  [Å]',data:B_TI},
 {n:'tio-a-vs-feh',s:'b',c:0,r:3,y:[-0.32,0.47],st:0.1,d:1,lab:'TiO A [Å]',data:B_TIOA},
 {n:'tio-b-vs-feh',s:'b',c:1,r:0,y:[-0.19,0.887],st:0.2,d:1,lab:'TiO B [Å]',data:B_TIOB},
 {n:'feh-vs-feh',s:'b',c:1,r:1,y:[-0.46,2.4],st:0.5,d:1,lab:'FeH [Å]',data:B_FEH},
 {n:'pa-delta-vs-feh',s:'b',c:1,r:2,y:[-0.23,3.9],st:1,d:0,lab:'Paδ [Å]',data:B_PAD},
 {n:'feti-vs-feh',s:'b',c:1,r:3,y:[-0.33,1.33],st:0.2,d:1,lab:'Fe Ti [Å]',data:B_FETI},
 {n:'fe-vs-feh',s:'b',c:2,r:1,y:[-0.29,0.485],st:0.2,d:1,lab:'Fe  [Å]',data:B_FE},
 {n:'vo-vs-feh',s:'b',c:2,r:2,y:[-0.31,1.88],st:0.5,d:1,lab:'VO [Å]',data:B_VO},
 {n:'si-vs-feh',s:'b',c:2,r:3,y:[-0.4,2.32],st:0.5,d:1,lab:'Si  [Å]',data:B_SI},
 {n:'cn-vs-feh',s:'b',c:3,r:1,y:[-0.2,1.4],st:0.5,d:1,lab:'CN  [Å]',data:B_CN},
 {n:'sr-vs-feh',s:'b',c:3,r:2,y:[-0.95,1.66],st:0.5,d:1,lab:'Sr  [Å]',data:B_SR},
 {n:'pa-gamma-vs-feh',s:'b',c:3,r:3,y:[-0.77,4.45],st:1,d:0,lab:'Paγ [Å]',data:B_PAG}
];

const NS='http://www.w3.org/2000/svg';
const svg=document.getElementById('fig');
function el(tag,attrs,parent){const e=document.createElementNS(NS,tag);for(const k in attrs)e.setAttribute(k,attrs[k]);(parent||svg).appendChild(e);return e;}
function fmt(v,d){const s=Math.abs(v).toFixed(d);return (v< -1e-9?'−':'')+s;}

panels.forEach(p=>{
  const [x0,x1]=COLX[p.c];
  const [y0,y1]=(p.s==='t'?TOPY:BOTY)[p.r];
  const xl=p.s==='t'?XLIM_TOP:XLIM_BOT;
  const sx=v=>x0+(v-xl[0])/(xl[1]-xl[0])*(x1-x0);
  const sy=v=>y1-(v-p.y[0])/(p.y[1]-p.y[0])*(y1-y0);
  const g=el('g',{});
  
  
  const zl=el('line',{x1:x0,x2:x1,y1:sy(0),y2:sy(0),stroke:'#999','stroke-width':1.3,'stroke-dasharray':'8,5'},g);
  
  
  const mg=el('g',{},g);
  
  
  ORDER.forEach(code=>{
    const arr=p.data[code]; if(!arr) return;
    const col=COLORS[code[0]], sh=code[1];
    for(let i=0;i<arr.length;i+=2){
      const cx=sx(arr[i]), cy=sy(arr[i+1]);
      let m;
      if(sh==='o') m=el('ellipse',{cx:cx,cy:cy,rx:5.2,ry:4.6,fill:col},mg);
      else if(sh==='t') m=el('polygon',{points:`${cx},${cy-5.5} ${cx-5.3},${cy+4} ${cx+5.3},${cy+4}`,fill:col},mg);
      else m=el('rect',{x:cx-4.6,y:cy-4.6,width:9.2,height:9.2,fill:col},mg);
      
      
    }
  });
  const fr=el('rect',{x:x0,y:y0,width:x1-x0,height:y1-y0,fill:'none',stroke:'#888','stroke-width':1.2},g);
  
  
  let ticks='';
  const ys=p.st, ymn=p.st/5;
  for(let v=Math.ceil(p.y[0]/ymn-1e-6)*ymn; v<=p.y[1]+1e-9; v+=ymn){
    const yy=sy(v); const major=Math.abs(v/ys-Math.round(v/ys))<1e-4; const L=major?7:3.5;
    ticks+=`M${x0},${yy}h${L}M${x1},${yy}h${-L}`;
  }
  const xs=p.s==='t'?1:0.2, xmn=p.s==='t'?0.1:0.05;
  for(let v=xl[0]; v<=xl[1]+1e-9; v+=xmn){
    const xx=sx(v); const major=Math.abs(v/xs-Math.round(v/xs))<1e-4; const L=major?7:3.5;
    ticks+=`M${xx},${y1}v${-L}M${xx},${y0}v${L}`;
  }
  const tp=el('path',{d:ticks,stroke:'#888','stroke-width':1,fill:'none'},g);
  
  
  for(let k=Math.ceil(p.y[0]/ys-1e-6); k*ys<=p.y[1]+0.02; k++){
    const v=k*ys;
    const t=el('text',{x:x0-7,y:sy(v)+6,'text-anchor':'end','font-size':17,'letter-spacing':0.5},g);
    t.textContent=fmt(v,p.d);
    
    
  }
  const lx=x0-(p.c===0?46:61), ly=(y0+y1)/2;
  const yt=el('text',{x:lx,y:ly,'text-anchor':'middle','font-size':18,transform:`rotate(-90 ${lx} ${ly})`},g);
  yt.textContent=p.lab;
  
  
  if(p.r===3){
    const labs=p.s==='t'?[0,1,2,3,4,5]:[-0.6,-0.4,-0.2,0,0.2,0.4];
    labs.forEach(v=>{
      const t=el('text',{x:sx(v),y:y1+19,'text-anchor':'middle','font-size':17,'letter-spacing':0.5},g);
      t.textContent=p.s==='t'?String(v):fmt(v,1);
      
      
    });
    const xt=el('text',{x:(x0+x1)/2,y:y1+(p.s==='t'?40:37),'text-anchor':'middle','font-size':18},g);
    if(p.s==='t'){
      xt.textContent='log(g/cm s';
      const sup=el('tspan',{dy:-7,'font-size':11},xt); sup.textContent='−2';
      const cl=el('tspan',{dy:7},xt); cl.textContent=')';
    } else xt.textContent='[Fe/H]';
    
    
  }
});
</script>
</body></html>
